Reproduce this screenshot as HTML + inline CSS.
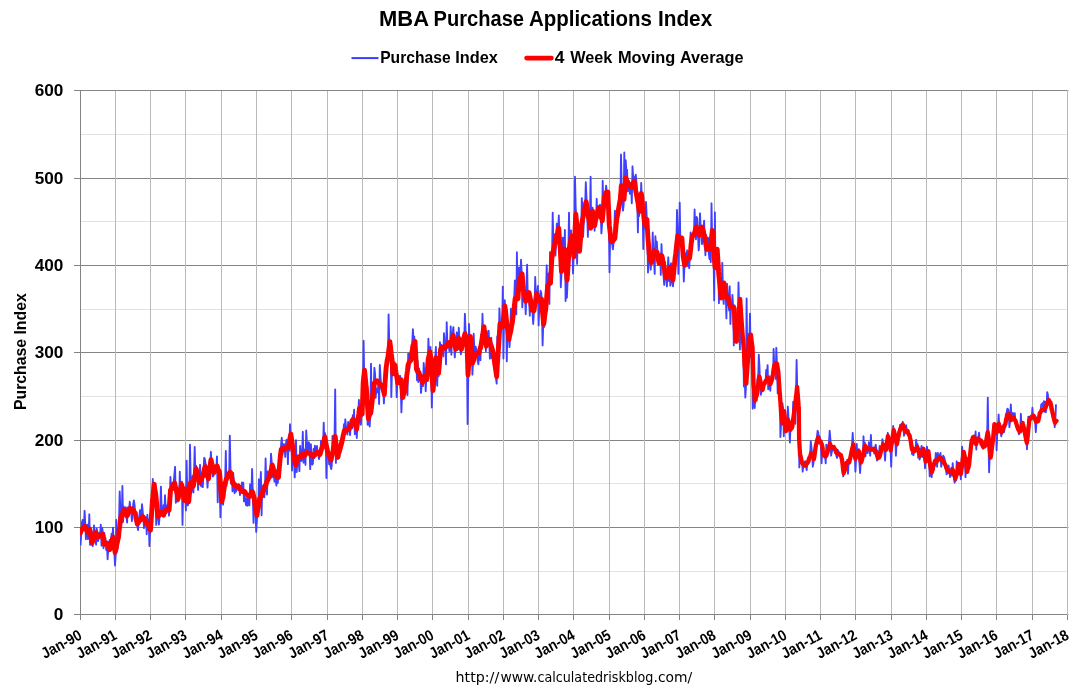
<!DOCTYPE html>
<html lang="en"><head><meta charset="utf-8"><title>MBA Purchase Applications Index</title>
<style>
html,body{margin:0;padding:0;background:#fff;}
body{width:1091px;height:694px;overflow:hidden;font-family:"Liberation Sans",sans-serif;}
svg{display:block;}
svg text{font-family:"Liberation Sans",sans-serif;fill:#000;}
</style></head><body>
<svg width="1091" height="694" viewBox="0 0 1091 694">
<rect width="1091" height="694" fill="#fff"/>
<g stroke="#e2e2e2" stroke-width="1" shape-rendering="crispEdges">
<line x1="80.5" x2="1067.5" y1="571.5" y2="571.5"/>
<line x1="80.5" x2="1067.5" y1="483.5" y2="483.5"/>
<line x1="80.5" x2="1067.5" y1="396.5" y2="396.5"/>
<line x1="80.5" x2="1067.5" y1="309.5" y2="309.5"/>
<line x1="80.5" x2="1067.5" y1="221.5" y2="221.5"/>
<line x1="80.5" x2="1067.5" y1="134.5" y2="134.5"/>
</g>
<g stroke="#848484" stroke-width="1" shape-rendering="crispEdges">
<line x1="74.0" x2="1067.0" y1="614.5" y2="614.5"/>
<line x1="74.0" x2="1067.0" y1="527.5" y2="527.5"/>
<line x1="74.0" x2="1067.0" y1="440.5" y2="440.5"/>
<line x1="74.0" x2="1067.0" y1="352.5" y2="352.5"/>
<line x1="74.0" x2="1067.0" y1="265.5" y2="265.5"/>
<line x1="74.0" x2="1067.0" y1="178.5" y2="178.5"/>
<line x1="74.0" x2="1067.0" y1="90.5" y2="90.5"/>
</g>
<g stroke="#c4c4c4" stroke-width="1" shape-rendering="crispEdges">
<line x1="1067.0" x2="1069.0" y1="614.5" y2="614.5"/>
<line x1="1067.0" x2="1069.0" y1="527.5" y2="527.5"/>
<line x1="1067.0" x2="1069.0" y1="440.5" y2="440.5"/>
<line x1="1067.0" x2="1069.0" y1="352.5" y2="352.5"/>
<line x1="1067.0" x2="1069.0" y1="265.5" y2="265.5"/>
<line x1="1067.0" x2="1069.0" y1="178.5" y2="178.5"/>
<line x1="1067.0" x2="1069.0" y1="90.5" y2="90.5"/>
</g>
<g stroke="#b9b9b9" stroke-width="1" shape-rendering="crispEdges">
<line x1="115.5" x2="115.5" y1="91.0" y2="614.0"/>
<line x1="150.5" x2="150.5" y1="91.0" y2="614.0"/>
<line x1="185.5" x2="185.5" y1="91.0" y2="614.0"/>
<line x1="221.5" x2="221.5" y1="91.0" y2="614.0"/>
<line x1="256.5" x2="256.5" y1="91.0" y2="614.0"/>
<line x1="291.5" x2="291.5" y1="91.0" y2="614.0"/>
<line x1="327.5" x2="327.5" y1="91.0" y2="614.0"/>
<line x1="362.5" x2="362.5" y1="91.0" y2="614.0"/>
<line x1="397.5" x2="397.5" y1="91.0" y2="614.0"/>
<line x1="432.5" x2="432.5" y1="91.0" y2="614.0"/>
<line x1="468.5" x2="468.5" y1="91.0" y2="614.0"/>
<line x1="503.5" x2="503.5" y1="91.0" y2="614.0"/>
<line x1="538.5" x2="538.5" y1="91.0" y2="614.0"/>
<line x1="573.5" x2="573.5" y1="91.0" y2="614.0"/>
<line x1="609.5" x2="609.5" y1="91.0" y2="614.0"/>
<line x1="644.5" x2="644.5" y1="91.0" y2="614.0"/>
<line x1="679.5" x2="679.5" y1="91.0" y2="614.0"/>
<line x1="714.5" x2="714.5" y1="91.0" y2="614.0"/>
<line x1="750.5" x2="750.5" y1="91.0" y2="614.0"/>
<line x1="785.5" x2="785.5" y1="91.0" y2="614.0"/>
<line x1="820.5" x2="820.5" y1="91.0" y2="614.0"/>
<line x1="855.5" x2="855.5" y1="91.0" y2="614.0"/>
<line x1="891.5" x2="891.5" y1="91.0" y2="614.0"/>
<line x1="926.5" x2="926.5" y1="91.0" y2="614.0"/>
<line x1="961.5" x2="961.5" y1="91.0" y2="614.0"/>
<line x1="996.5" x2="996.5" y1="91.0" y2="614.0"/>
<line x1="1032.5" x2="1032.5" y1="91.0" y2="614.0"/>
<line x1="1067.5" x2="1067.5" y1="90.0" y2="614.0"/>
</g>
<g stroke="#848484" stroke-width="1" shape-rendering="crispEdges">
<line x1="80.5" x2="80.5" y1="90.5" y2="620.0"/>
<line x1="115.5" x2="115.5" y1="615.0" y2="620.0"/>
<line x1="150.5" x2="150.5" y1="615.0" y2="620.0"/>
<line x1="185.5" x2="185.5" y1="615.0" y2="620.0"/>
<line x1="221.5" x2="221.5" y1="615.0" y2="620.0"/>
<line x1="256.5" x2="256.5" y1="615.0" y2="620.0"/>
<line x1="291.5" x2="291.5" y1="615.0" y2="620.0"/>
<line x1="327.5" x2="327.5" y1="615.0" y2="620.0"/>
<line x1="362.5" x2="362.5" y1="615.0" y2="620.0"/>
<line x1="397.5" x2="397.5" y1="615.0" y2="620.0"/>
<line x1="432.5" x2="432.5" y1="615.0" y2="620.0"/>
<line x1="468.5" x2="468.5" y1="615.0" y2="620.0"/>
<line x1="503.5" x2="503.5" y1="615.0" y2="620.0"/>
<line x1="538.5" x2="538.5" y1="615.0" y2="620.0"/>
<line x1="573.5" x2="573.5" y1="615.0" y2="620.0"/>
<line x1="609.5" x2="609.5" y1="615.0" y2="620.0"/>
<line x1="644.5" x2="644.5" y1="615.0" y2="620.0"/>
<line x1="679.5" x2="679.5" y1="615.0" y2="620.0"/>
<line x1="714.5" x2="714.5" y1="615.0" y2="620.0"/>
<line x1="750.5" x2="750.5" y1="615.0" y2="620.0"/>
<line x1="785.5" x2="785.5" y1="615.0" y2="620.0"/>
<line x1="820.5" x2="820.5" y1="615.0" y2="620.0"/>
<line x1="855.5" x2="855.5" y1="615.0" y2="620.0"/>
<line x1="891.5" x2="891.5" y1="615.0" y2="620.0"/>
<line x1="926.5" x2="926.5" y1="615.0" y2="620.0"/>
<line x1="961.5" x2="961.5" y1="615.0" y2="620.0"/>
<line x1="996.5" x2="996.5" y1="615.0" y2="620.0"/>
<line x1="1032.5" x2="1032.5" y1="615.0" y2="620.0"/>
<line x1="1067.5" x2="1067.5" y1="615.0" y2="620.0"/>
</g>
<defs><clipPath id="plot"><rect x="80" y="80" width="990" height="540"/></clipPath></defs>
<g clip-path="url(#plot)">
<path d="M80.5,545.4 L81.2,534.9 L81.9,522.6 L82.6,520.0 L83.2,527.6 L83.9,526.1 L84.6,510.8 L85.3,524.4 L85.9,539.2 L86.6,528.0 L87.3,524.7 L88.0,539.2 L88.6,535.5 L89.3,514.3 L90.0,544.7 L90.7,532.4 L91.3,544.7 L92.0,532.2 L92.7,546.1 L93.4,532.5 L94.0,525.4 L94.7,533.1 L95.4,540.2 L96.1,544.7 L96.7,528.6 L97.4,532.5 L98.1,541.1 L98.8,536.2 L99.5,532.4 L100.1,534.9 L100.8,524.7 L101.5,545.7 L102.2,527.9 L102.8,531.9 L103.5,548.2 L104.2,532.9 L104.9,538.4 L105.5,538.0 L106.2,550.0 L106.9,543.2 L107.6,559.3 L108.2,549.5 L108.9,545.8 L109.6,540.0 L110.3,544.0 L110.9,541.8 L111.6,533.7 L112.3,540.6 L113.0,527.7 L113.6,540.0 L114.3,551.3 L115.0,565.5 L115.7,554.8 L116.3,519.8 L117.0,551.2 L117.7,547.5 L118.4,542.0 L119.0,522.3 L119.7,491.4 L120.4,510.3 L121.1,523.1 L121.7,523.0 L122.4,485.9 L123.1,521.9 L123.8,506.6 L124.4,511.0 L125.1,512.5 L125.8,507.3 L126.5,517.1 L127.1,522.6 L127.8,507.4 L128.5,516.1 L129.2,508.4 L129.8,501.8 L130.5,510.3 L131.2,512.7 L131.9,521.2 L132.6,512.9 L133.2,504.2 L133.9,500.4 L134.6,505.1 L135.3,514.6 L135.9,520.4 L136.6,516.3 L137.3,525.4 L138.0,530.1 L138.6,522.5 L139.3,516.7 L140.0,510.1 L140.7,514.2 L141.3,515.3 L142.0,504.2 L142.7,511.3 L143.4,519.4 L144.0,528.1 L144.7,518.9 L145.4,524.4 L146.1,517.1 L146.7,534.3 L147.4,514.6 L148.1,530.1 L148.8,519.4 L149.4,546.1 L150.1,532.1 L150.8,530.5 L151.5,514.2 L152.1,500.1 L152.8,479.0 L153.5,493.7 L154.2,487.1 L154.8,487.2 L155.5,493.7 L156.2,524.9 L156.9,509.6 L157.5,507.7 L158.2,518.1 L158.9,524.7 L159.6,516.8 L160.2,508.9 L160.9,486.6 L161.6,508.6 L162.3,515.6 L163.0,510.0 L163.6,505.2 L164.3,514.5 L165.0,495.2 L165.7,509.8 L166.3,510.3 L167.0,505.5 L167.7,505.4 L168.4,508.8 L169.0,515.7 L169.7,505.4 L170.4,476.9 L171.1,491.6 L171.7,484.9 L172.4,484.0 L173.1,490.2 L173.8,481.6 L174.4,474.2 L175.1,466.8 L175.8,502.8 L176.5,492.3 L177.1,501.5 L177.8,493.8 L178.5,501.4 L179.2,496.9 L179.8,471.7 L180.5,493.5 L181.2,488.7 L181.9,481.6 L182.5,524.9 L183.2,487.4 L183.9,498.3 L184.6,498.4 L185.2,495.4 L185.9,510.4 L186.6,460.6 L187.3,496.1 L187.9,505.5 L188.6,497.7 L189.3,495.8 L190.0,444.7 L190.6,473.9 L191.3,492.5 L192.0,482.7 L192.7,475.9 L193.4,492.5 L194.0,475.0 L194.7,447.0 L195.4,477.8 L196.1,465.7 L196.7,469.4 L197.4,471.5 L198.1,489.9 L198.8,470.9 L199.4,475.8 L200.1,464.8 L200.8,485.9 L201.5,482.2 L202.1,486.7 L202.8,487.1 L203.5,470.9 L204.2,457.8 L204.8,458.9 L205.5,463.2 L206.2,465.6 L206.9,475.5 L207.5,487.6 L208.2,476.5 L208.9,474.7 L209.6,464.0 L210.2,466.4 L210.9,451.8 L211.6,465.1 L212.3,460.5 L212.9,476.5 L213.6,475.7 L214.3,469.7 L215.0,466.6 L215.6,466.9 L216.3,468.8 L217.0,456.4 L217.7,502.3 L218.3,475.4 L219.0,481.0 L219.7,482.9 L220.4,517.3 L221.0,495.4 L221.7,498.6 L222.4,494.2 L223.1,504.6 L223.8,488.4 L224.4,498.1 L225.1,482.4 L225.8,450.9 L226.5,485.7 L227.1,478.6 L227.8,479.4 L228.5,474.6 L229.2,472.1 L229.8,435.7 L230.5,468.6 L231.2,483.6 L231.9,477.3 L232.5,491.3 L233.2,472.9 L233.9,484.0 L234.6,493.3 L235.2,483.5 L235.9,491.7 L236.6,489.8 L237.3,485.3 L237.9,489.7 L238.6,484.1 L239.3,489.4 L240.0,495.2 L240.6,486.2 L241.3,489.7 L242.0,482.4 L242.7,489.3 L243.3,482.7 L244.0,501.4 L244.7,496.7 L245.4,500.1 L246.0,505.1 L246.7,498.3 L247.4,505.8 L248.1,501.5 L248.7,496.8 L249.4,505.4 L250.1,484.3 L250.8,490.5 L251.4,493.9 L252.1,468.9 L252.8,492.5 L253.5,522.9 L254.2,493.8 L254.8,511.8 L255.5,508.8 L256.2,531.9 L256.9,520.7 L257.5,509.4 L258.2,511.5 L258.9,479.3 L259.6,507.4 L260.2,488.7 L260.9,471.9 L261.6,515.3 L262.3,486.1 L262.9,496.9 L263.6,484.9 L264.3,497.3 L265.0,489.8 L265.6,458.5 L266.3,484.8 L267.0,494.5 L267.7,471.4 L268.3,480.7 L269.0,475.5 L269.7,478.3 L270.4,473.1 L271.0,453.7 L271.7,462.0 L272.4,475.0 L273.1,477.4 L273.7,467.8 L274.4,481.6 L275.1,474.4 L275.8,481.0 L276.4,485.7 L277.1,469.9 L277.8,483.0 L278.5,472.3 L279.1,464.9 L279.8,454.9 L280.5,458.8 L281.2,443.4 L281.8,437.8 L282.5,454.7 L283.2,444.1 L283.9,444.1 L284.6,446.4 L285.2,456.9 L285.9,443.8 L286.6,439.6 L287.3,446.9 L287.9,464.1 L288.6,440.8 L289.3,450.7 L290.0,424.2 L290.6,439.3 L291.3,434.6 L292.0,470.5 L292.7,448.8 L293.3,443.2 L294.0,458.2 L294.7,477.4 L295.4,462.6 L296.0,440.1 L296.7,472.0 L297.4,461.4 L298.1,462.5 L298.7,461.7 L299.4,471.2 L300.1,445.9 L300.8,454.4 L301.4,461.0 L302.1,456.7 L302.8,431.8 L303.5,462.7 L304.1,449.5 L304.8,457.6 L305.5,464.8 L306.2,430.4 L306.8,440.7 L307.5,450.5 L308.2,449.7 L308.9,442.1 L309.5,448.4 L310.2,469.1 L310.9,444.1 L311.6,459.9 L312.2,464.6 L312.9,463.7 L313.6,448.9 L314.3,458.1 L314.9,445.6 L315.6,455.4 L316.3,452.3 L317.0,446.0 L317.7,453.8 L318.3,453.7 L319.0,459.1 L319.7,455.6 L320.4,454.9 L321.0,440.6 L321.7,442.1 L322.4,443.3 L323.1,445.0 L323.7,422.7 L324.4,446.5 L325.1,433.2 L325.8,440.5 L326.4,478.1 L327.1,448.3 L327.8,455.7 L328.5,451.6 L329.1,464.3 L329.8,456.5 L330.5,466.1 L331.2,469.1 L331.8,465.0 L332.5,435.9 L333.2,451.3 L333.9,441.9 L334.5,441.4 L335.2,389.5 L335.9,462.9 L336.6,439.4 L337.2,446.6 L337.9,458.9 L338.6,445.2 L339.3,453.4 L339.9,443.1 L340.6,441.2 L341.3,442.8 L342.0,443.7 L342.6,434.7 L343.3,432.1 L344.0,424.1 L344.7,428.6 L345.3,419.3 L346.0,427.0 L346.7,429.4 L347.4,434.6 L348.1,422.0 L348.7,431.4 L349.4,427.3 L350.1,435.2 L350.8,424.7 L351.4,427.1 L352.1,428.4 L352.8,415.3 L353.5,421.3 L354.1,409.6 L354.8,434.3 L355.5,427.5 L356.2,425.1 L356.8,438.0 L357.5,421.6 L358.2,415.1 L358.9,399.9 L359.5,415.7 L360.2,415.1 L360.9,424.8 L361.6,411.3 L362.2,416.1 L362.9,389.7 L363.6,340.8 L364.3,380.4 L364.9,374.7 L365.6,370.6 L366.3,385.5 L367.0,392.9 L367.6,424.8 L368.3,413.2 L369.0,423.6 L369.7,426.5 L370.3,413.4 L371.0,363.7 L371.7,414.3 L372.4,395.1 L373.0,394.9 L373.7,388.0 L374.4,367.8 L375.1,374.1 L375.7,397.8 L376.4,388.5 L377.1,389.6 L377.8,392.6 L378.5,380.6 L379.1,404.1 L379.8,365.0 L380.5,376.3 L381.2,388.6 L381.8,383.2 L382.5,388.6 L383.2,388.3 L383.9,403.4 L384.5,392.5 L385.2,379.8 L385.9,377.1 L386.6,365.8 L387.2,357.8 L387.9,362.6 L388.6,314.5 L389.3,343.3 L389.9,340.6 L390.6,341.1 L391.3,397.1 L392.0,370.5 L392.6,365.1 L393.3,372.7 L394.0,363.2 L394.7,362.5 L395.3,375.2 L396.0,376.3 L396.7,397.1 L397.4,380.5 L398.0,378.2 L398.7,377.7 L399.4,376.3 L400.1,375.8 L400.7,381.8 L401.4,412.4 L402.1,393.2 L402.8,397.5 L403.4,388.4 L404.1,392.9 L404.8,385.6 L405.5,392.3 L406.1,384.4 L406.8,379.4 L407.5,395.1 L408.2,353.6 L408.9,367.8 L409.5,368.3 L410.2,352.4 L410.9,360.3 L411.6,361.2 L412.2,343.7 L412.9,329.1 L413.6,341.5 L414.3,336.6 L414.9,349.2 L415.6,354.5 L416.3,362.8 L417.0,380.3 L417.6,360.6 L418.3,382.0 L419.0,368.5 L419.7,376.2 L420.3,374.4 L421.0,393.0 L421.7,385.2 L422.4,377.7 L423.0,386.1 L423.7,363.0 L424.4,373.4 L425.1,375.6 L425.7,391.3 L426.4,375.1 L427.1,380.8 L427.8,364.0 L428.4,338.7 L429.1,357.6 L429.8,347.5 L430.5,347.0 L431.1,360.4 L431.8,407.5 L432.5,382.0 L433.2,383.7 L433.8,386.1 L434.5,363.1 L435.2,358.1 L435.9,347.0 L436.5,372.7 L437.2,385.8 L437.9,364.2 L438.6,376.4 L439.3,369.3 L439.9,342.2 L440.6,348.0 L441.3,344.9 L442.0,349.4 L442.6,350.5 L443.3,356.5 L444.0,333.2 L444.7,342.3 L445.3,342.5 L446.0,364.3 L446.7,322.1 L447.4,345.4 L448.0,344.5 L448.7,343.9 L449.4,351.2 L450.1,344.3 L450.7,326.3 L451.4,354.7 L452.1,333.8 L452.8,331.4 L453.4,327.2 L454.1,344.2 L454.8,357.4 L455.5,344.3 L456.1,342.4 L456.8,332.3 L457.5,336.8 L458.2,349.4 L458.8,327.8 L459.5,341.7 L460.2,347.7 L460.9,354.4 L461.5,346.0 L462.2,348.9 L462.9,335.5 L463.6,341.5 L464.2,343.2 L464.9,313.8 L465.6,331.2 L466.3,339.4 L466.9,347.6 L467.6,424.1 L468.3,375.4 L469.0,324.0 L469.6,342.4 L470.3,338.4 L471.0,345.9 L471.7,346.3 L472.4,374.7 L473.0,362.5 L473.7,333.7 L474.4,351.5 L475.1,358.1 L475.7,346.7 L476.4,350.5 L477.1,352.7 L477.8,361.3 L478.4,364.3 L479.1,353.4 L479.8,351.6 L480.5,360.2 L481.1,334.7 L481.8,342.6 L482.5,313.8 L483.2,339.7 L483.8,334.9 L484.5,333.7 L485.2,332.1 L485.9,351.2 L486.5,330.9 L487.2,344.0 L487.9,344.9 L488.6,330.6 L489.2,341.7 L489.9,358.6 L490.6,345.5 L491.3,337.8 L491.9,358.1 L492.6,353.9 L493.3,355.8 L494.0,359.0 L494.6,360.1 L495.3,372.2 L496.0,378.6 L496.7,383.7 L497.3,336.4 L498.0,361.0 L498.7,351.2 L499.4,308.3 L500.0,321.2 L500.7,321.9 L501.4,324.6 L502.1,328.0 L502.8,286.6 L503.4,358.6 L504.1,313.0 L504.8,300.2 L505.5,317.6 L506.1,314.1 L506.8,361.3 L507.5,323.7 L508.2,331.9 L508.8,335.6 L509.5,347.1 L510.2,336.2 L510.9,308.7 L511.5,322.0 L512.2,320.4 L512.9,321.6 L513.6,321.5 L514.2,298.4 L514.9,280.4 L515.6,296.9 L516.3,314.3 L516.9,252.2 L517.6,299.0 L518.3,298.9 L519.0,267.5 L519.6,281.6 L520.3,284.2 L521.0,259.7 L521.7,273.5 L522.3,307.4 L523.0,288.3 L523.7,287.3 L524.4,300.8 L525.0,292.8 L525.7,314.3 L526.4,292.7 L527.1,264.6 L527.7,293.0 L528.4,300.6 L529.1,297.3 L529.8,315.7 L530.4,301.3 L531.1,310.8 L531.8,298.8 L532.5,311.8 L533.2,324.0 L533.8,313.9 L534.5,311.1 L535.2,277.0 L535.9,298.1 L536.5,297.3 L537.2,294.7 L537.9,285.9 L538.6,325.4 L539.2,309.2 L539.9,296.4 L540.6,290.8 L541.3,293.3 L541.9,303.8 L542.6,345.4 L543.3,321.6 L544.0,327.2 L544.6,318.0 L545.3,313.3 L546.0,296.6 L546.7,265.3 L547.3,295.5 L548.0,282.5 L548.7,273.4 L549.4,303.9 L550.0,252.1 L550.7,273.8 L551.4,262.0 L552.1,252.5 L552.7,212.6 L553.4,246.4 L554.1,241.1 L554.8,234.3 L555.4,255.6 L556.1,243.5 L556.8,223.7 L557.5,238.4 L558.1,232.2 L558.8,215.4 L559.5,240.0 L560.2,248.2 L560.8,287.3 L561.5,273.4 L562.2,262.9 L562.9,237.6 L563.6,256.5 L564.2,255.0 L564.9,229.9 L565.6,301.1 L566.3,263.7 L566.9,297.7 L567.6,281.1 L568.3,255.2 L569.0,212.6 L569.6,248.0 L570.3,242.2 L571.0,230.4 L571.7,243.2 L572.3,235.0 L573.0,273.6 L573.7,255.9 L574.4,240.6 L575.0,176.7 L575.7,207.7 L576.4,218.8 L577.1,263.9 L577.7,236.0 L578.4,242.8 L579.1,245.4 L579.8,248.9 L580.4,235.8 L581.1,241.4 L581.8,198.1 L582.5,210.2 L583.1,236.9 L583.8,222.6 L584.5,202.7 L585.2,204.3 L585.8,182.2 L586.5,197.8 L587.2,213.7 L587.9,236.9 L588.5,211.2 L589.2,225.8 L589.9,218.5 L590.6,176.7 L591.2,223.1 L591.9,217.7 L592.6,207.7 L593.3,219.8 L594.0,212.1 L594.6,230.7 L595.3,217.7 L596.0,225.2 L596.7,198.8 L597.3,219.5 L598.0,206.1 L598.7,211.4 L599.4,214.0 L600.0,204.7 L600.7,211.2 L601.4,233.4 L602.1,224.0 L602.7,180.8 L603.4,211.1 L604.1,201.8 L604.8,196.5 L605.4,194.4 L606.1,185.7 L606.8,192.3 L607.5,190.8 L608.1,209.6 L608.8,217.1 L609.5,272.2 L610.2,233.6 L610.8,240.5 L611.5,240.8 L612.2,244.2 L612.9,249.3 L613.5,243.4 L614.2,234.0 L614.9,210.6 L615.6,234.2 L616.2,216.5 L616.9,217.5 L617.6,215.0 L618.3,208.8 L618.9,205.0 L619.6,194.5 L620.3,208.0 L621.0,154.5 L621.6,182.1 L622.3,196.0 L623.0,210.6 L623.7,204.4 L624.3,152.5 L625.0,190.8 L625.7,160.1 L626.4,171.6 L627.1,169.8 L627.7,191.2 L628.4,180.4 L629.1,181.2 L629.8,193.8 L630.4,182.7 L631.1,185.3 L631.8,203.3 L632.5,166.3 L633.1,175.6 L633.8,176.5 L634.5,187.9 L635.2,189.0 L635.8,174.6 L636.5,182.3 L637.2,199.0 L637.9,232.4 L638.5,203.9 L639.2,216.0 L639.9,195.9 L640.6,207.1 L641.2,182.9 L641.9,202.6 L642.6,206.6 L643.3,249.0 L643.9,215.9 L644.6,221.1 L645.3,228.7 L646.0,201.9 L646.6,213.9 L647.3,235.4 L648.0,272.5 L648.7,254.7 L649.3,254.6 L650.0,259.5 L650.7,269.7 L651.4,258.5 L652.0,261.9 L652.7,232.4 L653.4,251.8 L654.1,262.4 L654.7,273.9 L655.4,236.2 L656.1,247.6 L656.8,241.7 L657.5,252.4 L658.1,256.1 L658.8,257.1 L659.5,258.2 L660.2,253.6 L660.8,274.9 L661.5,244.1 L662.2,263.8 L662.9,258.1 L663.5,275.6 L664.2,284.9 L664.9,261.7 L665.6,274.2 L666.2,278.2 L666.9,286.3 L667.6,268.9 L668.3,257.3 L668.9,281.0 L669.6,265.5 L670.3,285.6 L671.0,263.2 L671.6,276.8 L672.3,283.0 L673.0,286.3 L673.7,278.2 L674.3,254.5 L675.0,261.7 L675.7,260.4 L676.4,244.0 L677.0,209.9 L677.7,238.7 L678.4,273.9 L679.1,243.5 L679.7,202.6 L680.4,243.9 L681.1,237.1 L681.8,236.6 L682.4,256.0 L683.1,253.5 L683.8,281.5 L684.5,264.6 L685.1,265.1 L685.8,253.1 L686.5,256.0 L687.2,250.3 L687.9,266.2 L688.5,259.6 L689.2,268.3 L689.9,255.5 L690.6,232.4 L691.2,251.8 L691.9,246.9 L692.6,234.6 L693.3,233.3 L693.9,236.5 L694.6,209.5 L695.3,233.7 L696.0,239.3 L696.6,217.0 L697.3,218.5 L698.0,235.4 L698.7,250.4 L699.3,243.2 L700.0,213.3 L700.7,228.6 L701.4,234.4 L702.0,244.1 L702.7,236.5 L703.4,232.8 L704.1,220.6 L704.7,236.5 L705.4,255.2 L706.1,235.1 L706.8,247.7 L707.4,237.4 L708.1,237.9 L708.8,253.8 L709.5,259.1 L710.1,251.0 L710.8,262.1 L711.5,203.3 L712.2,242.2 L712.8,229.9 L713.5,252.4 L714.2,300.4 L714.9,212.3 L715.5,267.0 L716.2,259.4 L716.9,251.7 L717.6,251.7 L718.3,262.4 L718.9,303.2 L719.6,284.8 L720.3,288.2 L721.0,297.0 L721.6,289.9 L722.3,262.8 L723.0,294.5 L723.7,303.9 L724.3,285.9 L725.0,295.6 L725.7,290.8 L726.4,318.4 L727.0,283.6 L727.7,294.2 L728.4,302.8 L729.1,310.3 L729.7,286.3 L730.4,324.0 L731.1,305.7 L731.8,306.3 L732.4,294.9 L733.1,305.5 L733.8,345.4 L734.5,305.3 L735.1,327.1 L735.8,338.1 L736.5,338.8 L737.2,330.0 L737.8,322.6 L738.5,282.5 L739.2,311.3 L739.9,349.6 L740.5,304.6 L741.2,322.4 L741.9,322.2 L742.6,332.2 L743.2,343.3 L743.9,386.5 L744.6,371.4 L745.3,397.6 L745.9,387.9 L746.6,298.4 L747.3,362.3 L748.0,360.6 L748.7,333.6 L749.3,341.3 L750.0,313.6 L750.7,357.2 L751.4,336.9 L752.0,349.0 L752.7,408.7 L753.4,378.5 L754.1,392.0 L754.7,408.0 L755.4,395.9 L756.1,396.6 L756.8,400.4 L757.4,379.1 L758.1,382.2 L758.8,354.7 L759.5,366.7 L760.1,389.5 L760.8,394.8 L761.5,392.1 L762.2,385.7 L762.8,390.8 L763.5,384.0 L764.2,381.8 L764.9,382.9 L765.5,382.4 L766.2,369.9 L766.9,377.0 L767.6,365.1 L768.2,389.3 L768.9,382.3 L769.6,376.3 L770.3,390.8 L770.9,380.1 L771.6,381.4 L772.3,377.8 L773.0,379.9 L773.6,348.9 L774.3,365.8 L775.0,366.0 L775.7,378.9 L776.3,347.8 L777.0,365.8 L777.7,393.4 L778.4,381.2 L779.0,385.3 L779.7,384.8 L780.4,437.0 L781.1,422.8 L781.8,415.5 L782.4,403.1 L783.1,407.9 L783.8,436.3 L784.5,410.4 L785.1,432.3 L785.8,418.1 L786.5,428.9 L787.2,428.6 L787.8,406.6 L788.5,417.2 L789.2,426.1 L789.9,442.5 L790.5,426.8 L791.2,427.2 L791.9,423.0 L792.6,422.1 L793.2,401.7 L793.9,412.2 L794.6,410.0 L795.3,423.8 L795.9,399.2 L796.6,359.9 L797.3,390.5 L798.0,390.4 L798.6,402.6 L799.3,467.4 L800.0,456.3 L800.7,457.6 L801.3,455.2 L802.0,460.3 L802.7,471.6 L803.4,464.2 L804.0,467.2 L804.7,461.6 L805.4,461.2 L806.1,466.9 L806.7,470.2 L807.4,461.4 L808.1,464.1 L808.8,457.6 L809.4,462.6 L810.1,455.1 L810.8,441.1 L811.5,448.2 L812.2,454.2 L812.8,466.7 L813.5,462.6 L814.2,453.3 L814.9,455.5 L815.5,446.5 L816.2,442.6 L816.9,437.5 L817.6,430.8 L818.2,432.1 L818.9,443.2 L819.6,436.2 L820.3,440.6 L820.9,446.8 L821.6,463.3 L822.3,447.7 L823.0,448.7 L823.6,454.8 L824.3,457.6 L825.0,455.0 L825.7,463.3 L826.3,444.6 L827.0,454.2 L827.7,447.8 L828.4,447.3 L829.0,441.5 L829.7,430.8 L830.4,439.2 L831.1,455.7 L831.7,452.1 L832.4,450.7 L833.1,448.0 L833.8,447.0 L834.4,447.8 L835.1,453.2 L835.8,451.8 L836.5,456.4 L837.1,458.0 L837.8,449.8 L838.5,451.6 L839.2,452.6 L839.8,455.2 L840.5,456.2 L841.2,456.3 L841.9,462.9 L842.6,466.3 L843.2,476.4 L843.9,466.1 L844.6,472.4 L845.3,464.6 L845.9,463.3 L846.6,463.3 L847.3,459.6 L848.0,473.7 L848.6,463.4 L849.3,461.3 L850.0,460.1 L850.7,452.9 L851.3,451.6 L852.0,446.2 L852.7,432.8 L853.4,445.4 L854.0,448.4 L854.7,449.3 L855.4,471.6 L856.1,458.1 L856.7,443.9 L857.4,455.1 L858.1,452.7 L858.8,449.1 L859.4,462.2 L860.1,473.0 L860.8,459.9 L861.5,461.7 L862.1,453.4 L862.8,459.7 L863.5,436.3 L864.2,450.9 L864.8,442.6 L865.5,456.4 L866.2,448.2 L866.9,449.0 L867.5,453.1 L868.2,451.0 L868.9,442.3 L869.6,449.1 L870.2,455.7 L870.9,434.9 L871.6,449.2 L872.3,450.8 L873.0,448.0 L873.6,450.7 L874.3,453.5 L875.0,447.8 L875.7,444.7 L876.3,448.6 L877.0,460.5 L877.7,457.3 L878.4,456.3 L879.0,453.5 L879.7,446.0 L880.4,456.2 L881.1,452.2 L881.7,448.1 L882.4,439.1 L883.1,443.4 L883.8,447.9 L884.4,451.9 L885.1,460.5 L885.8,446.5 L886.5,446.6 L887.1,442.2 L887.8,432.8 L888.5,437.2 L889.2,441.6 L889.8,445.2 L890.5,448.8 L891.2,466.7 L891.9,446.0 L892.5,440.7 L893.2,425.9 L893.9,431.4 L894.6,431.4 L895.2,435.2 L895.9,455.7 L896.6,443.3 L897.3,445.3 L897.9,440.4 L898.6,436.5 L899.3,434.5 L900.0,424.9 L900.6,426.9 L901.3,424.3 L902.0,427.8 L902.7,421.8 L903.4,426.6 L904.0,435.7 L904.7,432.3 L905.4,433.2 L906.1,425.2 L906.7,430.2 L907.4,430.0 L908.1,433.4 L908.8,432.4 L909.4,436.0 L910.1,437.7 L910.8,439.6 L911.5,446.8 L912.1,454.3 L912.8,446.7 L913.5,455.2 L914.2,448.1 L914.8,452.4 L915.5,450.8 L916.2,439.8 L916.9,448.7 L917.5,444.1 L918.2,457.7 L918.9,454.3 L919.6,459.6 L920.2,457.1 L920.9,448.9 L921.6,446.0 L922.3,457.0 L922.9,451.9 L923.6,456.8 L924.3,452.9 L925.0,468.2 L925.6,458.6 L926.3,459.2 L927.0,446.7 L927.7,452.3 L928.3,455.5 L929.0,458.4 L929.7,476.4 L930.4,463.8 L931.0,467.8 L931.7,477.2 L932.4,465.3 L933.1,469.3 L933.7,469.3 L934.4,463.5 L935.1,464.9 L935.8,452.9 L936.5,457.6 L937.1,466.8 L937.8,453.0 L938.5,457.5 L939.2,459.2 L939.8,455.2 L940.5,453.0 L941.2,466.8 L941.9,463.0 L942.5,459.8 L943.2,455.6 L943.9,456.8 L944.6,458.8 L945.2,463.4 L945.9,468.9 L946.6,474.3 L947.3,473.0 L947.9,466.6 L948.6,465.5 L949.3,470.7 L950.0,477.2 L950.6,470.4 L951.3,467.9 L952.0,475.7 L952.7,463.2 L953.3,472.1 L954.0,479.4 L954.7,482.7 L955.4,475.6 L956.0,480.7 L956.7,461.3 L957.4,464.4 L958.1,463.3 L958.7,465.8 L959.4,469.2 L960.1,469.0 L960.8,479.3 L961.4,467.7 L962.1,446.7 L962.8,457.3 L963.5,457.1 L964.1,453.6 L964.8,454.5 L965.5,477.2 L966.2,466.8 L966.9,471.6 L967.5,465.3 L968.2,463.9 L968.9,464.6 L969.6,460.1 L970.2,453.2 L970.9,447.5 L971.6,444.0 L972.3,437.2 L972.9,440.5 L973.6,437.6 L974.3,437.9 L975.0,440.1 L975.6,431.5 L976.3,449.5 L977.0,438.1 L977.7,439.5 L978.3,438.5 L979.0,432.7 L979.7,439.5 L980.4,444.8 L981.0,444.0 L981.7,440.3 L982.4,441.1 L983.1,448.8 L983.7,446.0 L984.4,441.6 L985.1,441.9 L985.8,441.0 L986.4,441.6 L987.1,440.3 L987.8,397.6 L988.5,443.0 L989.1,472.3 L989.8,452.6 L990.5,454.2 L991.2,448.6 L991.8,449.3 L992.5,447.1 L993.2,431.4 L993.9,429.0 L994.5,425.2 L995.2,429.1 L995.9,426.4 L996.6,450.2 L997.3,432.4 L997.9,431.8 L998.6,414.4 L999.3,426.7 L1000.0,426.9 L1000.6,430.6 L1001.3,436.4 L1002.0,431.8 L1002.7,429.6 L1003.3,430.6 L1004.0,432.1 L1004.7,427.5 L1005.4,427.3 L1006.0,419.5 L1006.7,412.1 L1007.4,408.6 L1008.1,409.4 L1008.7,412.2 L1009.4,427.1 L1010.1,420.4 L1010.8,404.4 L1011.4,417.4 L1012.1,419.4 L1012.8,413.0 L1013.5,413.7 L1014.1,415.6 L1014.8,413.2 L1015.5,423.2 L1016.2,419.6 L1016.8,427.8 L1017.5,427.0 L1018.2,431.3 L1018.9,434.3 L1019.5,430.3 L1020.2,429.1 L1020.9,413.8 L1021.6,430.6 L1022.2,422.2 L1022.9,423.3 L1023.6,428.0 L1024.3,432.7 L1024.9,432.6 L1025.6,435.2 L1026.3,437.9 L1027.0,449.3 L1027.7,436.0 L1028.3,416.6 L1029.0,421.4 L1029.7,421.4 L1030.4,418.2 L1031.0,415.8 L1031.7,419.2 L1032.4,407.7 L1033.1,416.8 L1033.7,416.0 L1034.4,415.5 L1035.1,420.5 L1035.8,432.1 L1036.4,423.8 L1037.1,417.3 L1037.8,422.4 L1038.5,421.9 L1039.1,419.0 L1039.8,413.1 L1040.5,412.8 L1041.2,404.5 L1041.8,405.6 L1042.5,403.2 L1043.2,407.5 L1043.9,401.1 L1044.5,411.8 L1045.2,401.6 L1045.9,412.2 L1046.6,407.0 L1047.2,392.1 L1047.9,394.7 L1048.6,404.2 L1049.3,399.7 L1049.9,401.4 L1050.6,410.2 L1051.3,408.6 L1052.0,412.2 L1052.6,417.1 L1053.3,414.0 L1054.0,414.2 L1054.7,427.1 L1055.3,421.9 L1056.0,404.4" fill="none" stroke="#4040ff" stroke-width="1.85" stroke-linejoin="round" stroke-linecap="butt"/>
<path d="M735.1,327.5 L735.8,335.0 L736.4,341.3 L736.5,339.8 L737.2,330.7 L737.8,323.7 L738.4,316.1 L738.5,315.2 L739.2,308.7 L739.9,301.6 L740.1,299.0 L740.5,304.5 L741.2,315.5 L741.9,325.0 L741.9,325.1 L742.6,334.4 L743.2,342.7 L743.9,350.7 L744.0,351.3 L744.5,364.4 L744.6,365.1 L745.3,371.9 L745.9,379.4 L746.3,383.6 L746.6,379.4 L747.3,369.5 L748.0,359.6 L748.0,359.3 L748.7,343.3 L748.8,339.2 L749.3,337.3 L750.0,336.9 L750.7,334.9 L750.9,334.8 L751.4,338.7 L752.0,344.2 L752.5,346.8 L752.7,352.5 L752.8,358.2 L753.4,378.8 L753.5,384.0 L754.1,389.7 L754.7,398.6 L754.9,400.7 L755.4,398.9 L756.1,396.5 L756.8,395.3 L757.0,394.2 L757.4,389.5 L758.1,385.3 L758.8,379.7 L759.1,376.5 L759.5,376.7 L760.1,380.3 L760.8,382.4 L761.1,383.2 L761.5,384.5 L762.2,388.6 L762.5,389.9 L762.8,388.9 L763.5,385.3 L764.2,384.0 L764.9,383.1 L765.3,381.9 L765.5,381.0 L766.2,380.9 L766.9,380.2 L767.4,377.8 L767.6,377.9 L768.2,379.3 L768.9,380.3 L769.6,381.4 L770.1,384.1 L770.3,384.0 L770.9,382.7 L771.6,380.6 L772.2,378.4 L772.3,377.7 L773.0,373.9 L773.6,369.4 L774.3,365.5 L774.3,365.4 L775.0,365.7 L775.7,363.9 L776.3,363.2 L777.0,363.7 L777.0,363.6 L777.7,367.9 L778.4,372.4 L778.4,372.8 L779.0,382.4 L779.7,392.2 L779.8,393.5 L780.4,402.0 L781.1,412.6 L781.2,414.6 L781.8,418.5 L782.4,422.6 L782.6,423.4 L783.1,418.6 L783.8,412.8 L784.0,411.1 L784.5,415.1 L785.1,420.9 L785.8,428.7 L786.0,431.2 L786.5,429.5 L787.2,425.8 L787.8,421.5 L788.1,419.9 L788.5,421.5 L789.2,423.7 L789.9,428.1 L790.2,430.0 L790.5,429.8 L791.2,428.3 L791.9,427.9 L792.3,426.4 L792.6,423.8 L793.2,419.0 L793.9,414.3 L794.3,411.3 L794.6,408.9 L795.3,403.6 L795.9,397.8 L796.6,391.9 L797.1,386.8 L797.3,389.1 L798.0,397.6 L798.6,406.0 L798.8,407.8 L799.1,438.3 L799.3,442.2 L800.0,453.5 L800.1,454.8 L800.7,456.9 L801.3,459.9 L802.0,462.4 L802.1,462.9 L802.7,463.7 L803.4,464.6 L804.0,465.0 L804.7,464.9 L804.9,465.4 L805.4,465.5 L806.1,464.9 L806.7,463.6 L807.4,462.8 L808.1,461.6 L808.4,461.0 L808.8,459.4 L809.4,457.6 L810.1,456.8 L810.8,454.2 L811.1,453.3 L811.5,454.0 L812.2,456.3 L812.8,456.5 L813.5,458.2 L813.9,459.1 L814.2,457.3 L814.9,452.7 L815.5,447.9 L816.0,445.2 L816.2,444.4 L816.9,441.6 L817.6,439.2 L818.1,437.5 L818.2,438.1 L818.9,439.3 L819.6,440.8 L820.1,441.1 L820.3,441.1 L820.9,442.3 L821.6,443.9 L822.2,445.8 L822.3,446.4 L823.0,451.1 L823.6,454.4 L823.6,454.4 L824.3,455.7 L825.0,455.7 L825.7,456.4 L825.7,456.4 L826.3,455.7 L827.0,453.8 L827.7,451.6 L827.7,451.4 L828.4,449.2 L829.0,446.9 L829.7,444.6 L830.1,443.8 L830.4,444.8 L831.1,447.1 L831.7,446.8 L832.4,447.8 L832.6,447.9 L833.1,447.5 L833.8,447.1 L834.4,448.5 L835.1,449.3 L835.8,451.2 L836.5,452.5 L836.7,452.8 L837.1,453.4 L837.8,453.6 L838.5,454.3 L839.2,454.7 L839.8,454.3 L840.5,455.1 L840.9,455.2 L841.2,456.6 L841.9,459.3 L842.3,461.9 L842.6,464.5 L843.2,470.4 L843.7,473.3 L843.9,472.4 L844.6,470.7 L845.3,468.3 L845.9,464.7 L846.4,463.0 L846.6,463.0 L847.3,462.3 L848.0,461.9 L848.6,461.9 L849.2,462.4 L849.3,461.9 L850.0,459.0 L850.7,456.3 L851.3,453.0 L851.3,452.7 L852.0,449.5 L852.7,447.1 L853.3,444.4 L853.4,444.6 L854.0,449.7 L854.7,454.3 L855.4,458.8 L855.4,459.0 L856.1,457.3 L856.7,456.2 L857.4,455.3 L858.1,453.4 L858.8,451.3 L858.9,451.1 L859.4,454.3 L860.1,458.0 L860.8,461.2 L861.0,462.5 L861.5,461.6 L862.1,459.0 L862.8,456.3 L863.0,455.6 L863.5,453.7 L864.2,449.3 L864.8,446.7 L865.1,445.6 L865.5,446.4 L866.2,447.9 L866.9,448.5 L867.5,448.1 L867.9,448.2 L868.2,448.4 L868.9,448.4 L869.6,448.7 L870.2,449.3 L870.6,449.6 L870.9,449.4 L871.6,448.9 L872.3,449.4 L873.0,449.4 L873.6,448.7 L874.1,448.8 L874.3,449.3 L875.0,450.5 L875.7,451.5 L876.2,451.5 L876.3,451.8 L877.0,455.1 L877.7,457.2 L878.0,458.1 L878.4,457.7 L879.0,457.7 L879.7,456.1 L880.3,454.0 L880.4,453.6 L881.1,450.6 L881.7,448.4 L882.4,446.2 L883.1,444.5 L883.1,444.5 L883.8,445.0 L884.4,445.7 L885.1,447.0 L885.8,449.7 L885.9,449.9 L886.5,445.8 L887.1,441.5 L887.8,437.1 L887.9,436.1 L888.5,438.9 L889.2,443.4 L889.8,445.6 L890.5,449.3 L890.7,450.3 L891.2,446.6 L891.9,442.2 L892.5,438.5 L893.2,433.1 L893.7,430.0 L893.9,430.8 L894.6,433.6 L895.2,437.2 L895.9,440.1 L896.6,443.1 L896.9,444.2 L897.3,442.1 L897.9,438.6 L898.6,436.0 L899.3,432.0 L900.0,430.2 L900.4,428.5 L900.6,428.3 L901.3,427.7 L902.0,426.5 L902.7,424.7 L902.8,424.6 L903.4,426.6 L904.0,427.3 L904.7,430.7 L904.8,431.2 L905.4,430.4 L906.1,430.4 L906.7,431.7 L907.4,431.0 L907.6,431.0 L908.1,433.2 L908.8,434.7 L909.4,435.1 L909.7,436.0 L910.1,438.1 L910.8,441.4 L911.5,446.4 L911.8,448.4 L912.1,449.5 L912.8,450.4 L913.5,451.3 L913.8,451.4 L914.2,450.8 L914.8,450.4 L915.5,449.5 L916.2,448.3 L916.9,447.3 L917.3,447.1 L917.5,447.7 L918.2,450.0 L918.9,452.7 L919.6,453.9 L920.1,455.8 L920.2,455.8 L920.9,454.5 L921.6,454.2 L922.3,453.5 L922.9,450.0 L923.5,448.8 L923.6,449.2 L924.3,452.9 L925.0,456.9 L925.6,461.5 L925.6,461.4 L926.3,458.8 L927.0,456.1 L927.7,453.5 L928.3,451.3 L928.4,451.2 L929.0,456.7 L929.7,462.3 L929.8,462.7 L930.4,466.0 L931.0,469.5 L931.7,472.0 L931.8,472.5 L932.4,470.5 L933.1,467.1 L933.7,465.5 L934.4,462.9 L935.1,460.7 L935.3,460.5 L935.8,461.6 L936.5,461.4 L937.1,460.8 L937.8,460.5 L938.5,458.9 L939.2,457.5 L939.4,457.7 L939.8,458.3 L940.5,457.7 L941.2,458.6 L941.9,459.2 L942.5,460.6 L943.2,462.1 L943.6,461.6 L943.9,461.8 L944.6,463.7 L945.2,464.5 L945.9,466.3 L946.4,468.1 L946.6,468.5 L947.3,469.6 L947.9,470.4 L948.6,470.6 L949.3,471.6 L949.8,472.3 L950.0,472.2 L950.6,471.4 L951.3,471.8 L952.0,471.0 L952.6,469.5 L952.7,469.7 L953.3,471.9 L954.0,473.6 L954.7,476.0 L955.4,478.7 L955.4,478.6 L956.0,476.7 L956.7,474.6 L957.4,471.1 L958.1,467.6 L958.7,464.3 L958.8,464.0 L959.4,466.1 L960.1,469.9 L960.8,473.6 L960.9,474.1 L961.4,470.2 L962.1,464.4 L962.8,459.1 L963.5,453.3 L963.7,451.9 L964.1,453.5 L964.8,456.7 L965.5,458.4 L965.7,459.2 L966.2,463.2 L966.9,470.1 L967.1,471.9 L967.5,470.1 L968.2,468.2 L968.9,465.7 L969.2,463.8 L969.6,459.1 L970.2,453.7 L970.9,447.3 L971.6,441.2 L971.6,440.6 L972.3,440.1 L972.9,437.3 L973.6,437.1 L973.9,436.8 L974.3,437.8 L975.0,439.7 L975.6,443.6 L976.1,444.2 L976.3,443.3 L977.0,441.5 L977.7,439.5 L978.0,438.5 L978.3,439.0 L979.0,439.5 L979.7,440.2 L980.0,440.2 L980.4,440.1 L981.0,440.6 L981.7,443.0 L982.4,444.3 L982.7,446.1 L983.1,446.8 L983.7,446.5 L984.4,446.5 L985.1,445.8 L985.5,445.3 L985.8,443.9 L986.4,439.7 L987.1,435.3 L987.7,432.1 L987.8,432.6 L988.5,436.7 L989.1,442.4 L989.1,443.4 L989.8,450.3 L990.5,456.2 L990.6,457.7 L991.2,454.3 L991.8,448.7 L992.5,443.2 L992.7,442.0 L993.2,437.4 L993.9,429.5 L994.4,424.2 L994.5,424.9 L995.2,427.6 L995.9,429.7 L996.6,432.4 L996.6,432.5 L997.3,429.6 L997.9,426.1 L998.6,424.3 L998.8,423.6 L999.3,426.1 L1000.0,428.6 L1000.6,431.6 L1001.3,432.0 L1001.6,432.5 L1002.0,431.0 L1002.7,429.7 L1003.3,428.2 L1003.3,427.9 L1004.0,426.1 L1004.7,425.0 L1005.4,423.8 L1005.5,423.5 L1006.0,420.1 L1006.7,417.2 L1007.1,414.9 L1007.4,414.8 L1008.1,414.9 L1008.7,414.0 L1008.8,414.0 L1009.4,417.4 L1010.1,418.7 L1010.8,420.2 L1010.8,420.3 L1011.4,419.6 L1012.1,418.4 L1012.8,418.4 L1013.5,417.9 L1013.8,417.8 L1014.1,419.2 L1014.8,420.0 L1015.5,420.9 L1016.0,422.5 L1016.2,423.2 L1016.8,425.1 L1017.5,427.2 L1018.2,429.3 L1018.2,429.4 L1018.9,429.2 L1019.5,430.8 L1019.9,431.6 L1020.2,431.1 L1020.9,429.9 L1021.6,428.3 L1022.2,424.3 L1022.7,422.9 L1022.9,424.0 L1023.6,426.7 L1024.3,429.8 L1024.9,432.9 L1024.9,433.2 L1025.6,436.8 L1026.3,440.6 L1026.9,442.9 L1027.0,441.8 L1027.7,436.2 L1028.3,429.2 L1029.0,423.5 L1029.3,420.4 L1029.7,420.0 L1030.4,417.7 L1031.0,417.9 L1031.5,417.4 L1031.7,417.1 L1032.4,416.5 L1033.1,417.5 L1033.7,416.0 L1033.8,415.9 L1034.4,417.7 L1035.1,419.3 L1035.8,421.0 L1036.0,421.8 L1036.4,421.1 L1037.1,421.3 L1037.8,421.2 L1038.2,420.9 L1038.5,419.6 L1039.1,417.2 L1039.8,413.2 L1039.9,413.0 L1040.5,412.2 L1041.2,411.0 L1041.8,409.9 L1042.1,409.8 L1042.5,409.7 L1043.2,409.5 L1043.9,409.8 L1044.5,408.6 L1045.2,407.8 L1045.4,407.5 L1045.9,406.5 L1046.6,404.9 L1047.2,403.6 L1047.9,402.2 L1048.6,400.2 L1048.7,399.8 L1049.3,400.8 L1049.9,402.1 L1050.4,402.7 L1050.6,403.3 L1051.3,406.4 L1052.0,409.9 L1052.6,413.1 L1053.2,415.3 L1053.3,416.0 L1054.0,419.0 L1054.7,421.6 L1055.2,422.8 L1055.3,422.1 L1056.0,421.2 L1056.5,420.9" fill="none" stroke="#ff0000" stroke-width="4.3" stroke-linejoin="round" stroke-linecap="round"/>
<path d="M80.5,532.7 L81.2,530.6 L81.9,529.5 L82.6,528.3 L83.2,528.8 L83.9,528.0 L84.6,526.4 L84.7,526.2 L85.3,527.2 L85.9,528.1 L86.6,529.6 L87.3,531.9 L87.5,532.2 L88.0,531.3 L88.6,530.0 L89.3,529.2 L89.5,529.1 L90.0,531.5 L90.7,535.3 L91.3,538.5 L92.0,541.8 L92.3,542.6 L92.7,540.7 L93.4,539.0 L94.0,538.0 L94.7,535.6 L95.4,533.7 L95.8,532.5 L96.1,533.6 L96.7,534.6 L97.4,536.4 L97.8,537.6 L98.1,537.2 L98.8,536.3 L99.5,535.9 L100.1,535.4 L100.8,535.0 L101.5,534.7 L102.2,534.5 L102.7,534.3 L102.8,535.4 L103.5,540.7 L104.1,543.6 L104.2,543.5 L104.9,544.3 L105.5,544.1 L106.2,542.8 L106.9,543.7 L107.5,543.2 L107.6,543.3 L108.2,545.8 L108.9,547.7 L109.6,549.7 L109.6,549.7 L110.3,547.5 L110.9,543.7 L111.6,541.3 L112.3,539.2 L113.0,537.3 L113.1,537.1 L113.6,542.2 L114.3,547.4 L115.0,551.5 L115.1,552.4 L115.7,549.9 L116.3,547.1 L117.0,543.5 L117.7,540.4 L118.4,537.7 L118.6,536.3 L119.0,531.3 L119.7,526.6 L120.4,520.4 L120.7,518.0 L121.1,516.8 L121.7,517.1 L122.4,514.1 L123.1,512.5 L123.8,511.7 L124.1,509.8 L124.4,509.7 L125.1,511.4 L125.8,513.5 L126.5,514.4 L126.9,515.9 L127.1,515.6 L127.8,514.1 L128.5,512.6 L129.2,511.0 L129.8,509.1 L130.1,508.3 L130.5,508.9 L131.2,509.1 L131.9,508.9 L132.4,510.1 L132.6,510.1 L133.2,509.8 L133.9,511.1 L134.6,513.5 L135.2,512.9 L135.3,513.2 L135.9,517.6 L136.6,520.7 L137.3,523.9 L137.3,523.9 L138.0,523.0 L138.6,522.3 L139.3,521.2 L140.0,519.6 L140.7,519.8 L141.3,518.3 L142.0,517.6 L142.7,516.9 L142.8,516.7 L143.4,517.4 L144.0,518.4 L144.7,520.1 L145.4,521.3 L146.1,522.4 L146.7,524.3 L147.0,524.2 L147.4,524.0 L148.1,524.6 L148.8,525.8 L149.4,527.0 L150.1,529.1 L150.4,530.2 L150.8,525.2 L151.5,515.6 L152.1,505.2 L152.5,500.1 L152.8,497.8 L153.5,491.3 L154.2,484.1 L154.2,484.2 L154.8,489.3 L155.5,492.8 L156.0,496.7 L156.2,499.3 L156.9,506.6 L157.5,511.9 L158.0,516.4 L158.2,516.4 L158.9,515.5 L159.6,513.7 L160.2,513.2 L160.9,512.2 L161.5,512.4 L161.6,512.7 L162.3,513.9 L163.0,514.7 L163.6,515.2 L163.6,515.0 L164.3,512.4 L165.0,512.4 L165.7,511.1 L166.3,509.5 L166.3,509.5 L167.0,510.0 L167.7,509.9 L168.4,509.5 L169.0,509.9 L169.1,510.0 L169.7,501.5 L170.4,491.5 L170.5,490.1 L171.1,489.7 L171.7,488.5 L172.4,486.6 L173.1,484.2 L173.8,483.8 L174.4,483.2 L174.6,483.0 L175.1,485.3 L175.8,488.5 L176.5,490.7 L177.1,493.9 L177.8,497.1 L178.1,498.6 L178.5,497.1 L179.2,495.0 L179.8,492.4 L180.5,489.0 L181.2,486.2 L181.5,484.3 L181.9,485.7 L182.5,488.5 L183.2,493.2 L183.9,497.6 L184.3,500.5 L184.6,498.7 L185.2,493.3 L185.7,488.9 L185.9,489.7 L186.6,492.6 L187.3,495.3 L187.9,499.3 L188.5,501.9 L188.6,501.5 L188.8,501.1 L189.3,495.2 L190.0,488.5 L190.5,482.6 L190.6,482.9 L191.3,484.7 L192.0,485.7 L192.7,486.4 L193.3,486.3 L193.4,486.0 L194.0,481.7 L194.7,477.6 L195.4,472.9 L196.1,468.9 L196.1,468.8 L196.7,471.3 L197.4,474.4 L198.1,477.4 L198.8,479.9 L199.4,482.3 L199.5,482.5 L200.1,480.5 L200.8,479.7 L201.5,478.7 L202.1,477.3 L202.8,476.5 L203.0,475.7 L203.5,472.9 L204.2,470.0 L204.8,467.7 L205.3,466.7 L205.5,467.6 L206.2,470.7 L206.9,473.8 L207.5,476.6 L208.2,477.6 L208.5,478.8 L208.9,475.7 L209.6,470.4 L210.2,465.0 L210.9,460.2 L211.0,459.7 L211.6,463.0 L212.3,465.3 L212.9,467.7 L213.6,470.9 L214.1,472.4 L214.3,472.2 L215.0,470.6 L215.6,469.4 L216.3,468.4 L217.0,466.0 L217.1,465.9 L217.7,468.1 L218.3,469.9 L219.0,470.8 L219.6,472.8 L219.7,474.0 L220.4,483.0 L221.0,492.7 L221.7,501.8 L221.7,501.7 L222.4,499.1 L223.1,494.6 L223.8,490.6 L224.4,486.3 L225.1,483.3 L225.8,481.0 L225.8,480.7 L226.5,478.7 L227.1,477.8 L227.8,475.2 L228.5,473.7 L229.2,473.6 L229.8,472.3 L230.5,473.0 L230.7,472.5 L231.2,474.6 L231.9,478.2 L232.5,482.0 L232.7,482.8 L233.2,482.4 L233.9,484.7 L234.6,484.5 L235.2,485.0 L235.9,486.1 L236.6,485.8 L237.3,486.6 L237.6,486.6 L237.9,486.6 L238.6,486.3 L239.3,487.7 L240.0,488.5 L240.6,489.7 L241.3,491.0 L241.7,490.9 L242.0,491.0 L242.7,491.7 L243.3,491.4 L244.0,491.2 L244.7,491.6 L245.4,492.8 L245.9,493.5 L246.0,493.6 L246.7,494.4 L247.4,495.2 L248.1,495.0 L248.7,495.6 L249.3,496.5 L249.4,496.5 L250.1,496.1 L250.8,494.8 L251.4,493.6 L252.1,491.4 L252.1,491.4 L252.8,492.4 L253.5,495.7 L254.2,498.2 L254.2,498.4 L254.8,503.1 L255.5,508.0 L256.2,511.2 L256.9,514.8 L257.0,515.3 L257.5,511.3 L258.2,506.8 L258.9,503.0 L259.6,499.4 L259.7,498.5 L260.2,498.0 L260.9,496.7 L261.6,495.7 L262.3,493.5 L262.9,490.7 L263.2,490.2 L263.6,489.3 L264.3,487.9 L265.0,486.5 L265.6,485.7 L266.3,483.5 L266.6,482.3 L267.0,481.0 L267.7,480.3 L268.3,478.8 L269.0,477.5 L269.4,477.5 L269.7,476.7 L270.4,473.1 L271.0,470.5 L271.7,467.5 L272.2,464.9 L272.4,465.4 L273.1,467.5 L273.7,470.3 L274.4,472.0 L274.9,474.2 L275.1,474.7 L275.8,475.4 L276.4,476.0 L277.1,477.4 L277.8,477.3 L278.4,477.5 L278.5,476.8 L279.1,470.1 L279.8,462.3 L280.5,455.1 L281.2,449.5 L281.2,449.5 L281.8,448.7 L282.5,449.5 L283.2,449.9 L283.9,449.0 L284.6,449.4 L284.6,449.3 L285.2,448.2 L285.9,447.8 L286.6,448.2 L287.3,447.7 L287.9,447.4 L288.1,447.2 L288.6,445.0 L289.3,442.1 L290.0,437.9 L290.6,435.0 L290.9,434.1 L291.3,437.2 L292.0,441.9 L292.7,448.2 L292.9,450.4 L293.3,452.4 L294.0,456.8 L294.7,461.3 L295.4,463.2 L295.7,464.9 L296.0,464.1 L296.7,460.8 L297.4,458.4 L298.1,457.7 L298.5,456.8 L298.7,457.0 L299.4,457.6 L300.1,457.5 L300.8,457.1 L301.4,455.1 L301.9,454.4 L302.1,454.4 L302.8,454.2 L303.5,454.9 L304.0,456.0 L304.1,455.8 L304.8,455.6 L305.5,454.3 L306.2,453.6 L306.8,452.4 L306.8,452.5 L307.5,453.1 L308.2,453.0 L308.9,453.2 L309.5,453.2 L310.2,453.1 L310.2,453.1 L310.9,455.3 L311.6,454.7 L312.2,455.7 L312.9,456.2 L313.6,455.9 L313.7,456.0 L314.3,455.1 L314.9,455.0 L315.6,453.7 L316.3,453.3 L317.0,453.0 L317.1,452.4 L317.7,452.2 L318.3,452.9 L319.0,454.0 L319.7,454.0 L319.9,454.5 L320.4,453.1 L321.0,451.1 L321.7,448.4 L322.4,447.0 L323.1,443.9 L323.7,442.1 L324.4,438.9 L324.8,437.0 L325.1,438.2 L325.8,442.9 L326.4,445.5 L327.1,449.0 L327.6,451.7 L327.8,452.1 L328.5,454.6 L329.1,455.7 L329.8,456.7 L330.5,458.9 L331.1,460.0 L331.2,459.3 L331.8,456.3 L332.5,454.4 L333.2,449.6 L333.9,445.3 L334.5,441.0 L335.2,436.6 L335.2,436.5 L335.9,442.9 L336.6,447.7 L337.2,452.1 L337.9,456.7 L338.0,457.1 L338.6,453.3 L339.3,451.7 L339.9,449.6 L340.6,446.8 L341.3,444.5 L341.4,443.9 L342.0,441.5 L342.6,438.5 L343.3,435.1 L344.0,432.5 L344.2,431.2 L344.7,430.3 L345.3,430.1 L346.0,430.7 L346.7,429.8 L347.4,429.7 L348.1,429.3 L348.7,428.8 L349.1,428.8 L349.4,428.4 L350.1,426.8 L350.8,424.8 L351.4,423.0 L352.1,420.7 L352.8,419.7 L353.2,419.1 L353.5,420.0 L354.1,422.2 L354.8,424.5 L355.5,425.7 L356.2,427.2 L356.7,429.0 L356.8,427.9 L357.5,423.1 L358.2,418.5 L358.9,413.2 L359.4,408.4 L359.5,408.5 L360.2,408.5 L360.9,410.3 L361.6,412.5 L362.2,413.9 L362.2,412.8 L362.9,391.7 L363.2,382.6 L363.6,378.1 L364.3,372.6 L364.5,370.2 L364.9,373.7 L365.6,380.7 L366.3,388.0 L366.4,388.6 L367.0,398.0 L367.6,407.4 L368.3,417.0 L368.4,418.5 L369.0,416.5 L369.7,414.6 L370.3,413.5 L370.9,412.5 L371.0,411.6 L371.7,405.3 L372.4,398.9 L373.0,393.6 L373.3,391.7 L373.7,387.6 L374.2,383.3 L374.4,383.6 L375.1,382.8 L375.7,381.6 L376.4,381.9 L377.1,380.8 L377.8,381.2 L378.5,382.3 L379.1,382.6 L379.1,382.7 L379.8,384.3 L380.5,385.3 L381.2,385.5 L381.8,385.7 L382.5,385.7 L382.5,385.7 L383.2,389.6 L383.9,392.4 L384.3,394.6 L384.5,391.6 L385.2,380.7 L385.9,370.9 L386.3,366.2 L386.6,364.7 L387.2,360.1 L387.9,357.5 L388.6,351.7 L389.3,346.2 L389.9,341.6 L389.9,342.2 L390.6,347.4 L391.3,354.1 L392.0,359.1 L392.2,361.3 L392.6,369.3 L392.9,373.8 L393.3,371.4 L394.0,369.1 L394.7,366.4 L395.0,365.1 L395.3,367.9 L396.0,372.9 L396.7,376.3 L397.4,380.8 L397.7,382.9 L398.0,382.2 L398.7,381.0 L399.4,381.0 L400.1,380.6 L400.7,380.5 L401.2,379.8 L401.4,382.3 L402.1,389.7 L402.7,397.6 L402.8,397.5 L403.4,394.7 L404.1,393.4 L404.8,390.5 L405.4,388.3 L405.5,387.2 L406.1,381.9 L406.8,375.5 L407.5,370.3 L408.1,364.7 L408.2,364.6 L408.9,362.9 L409.5,362.0 L410.2,360.5 L410.9,360.3 L410.9,360.3 L411.6,355.9 L412.2,350.6 L412.9,345.8 L413.0,345.4 L413.6,344.3 L414.3,342.5 L414.9,341.6 L415.0,341.4 L415.6,352.4 L416.3,366.2 L416.4,369.0 L417.0,370.1 L417.6,371.8 L418.3,372.3 L419.0,372.6 L419.2,373.2 L419.7,375.1 L420.3,376.3 L421.0,379.5 L421.7,380.3 L422.4,381.6 L422.6,382.5 L423.0,381.4 L423.7,378.4 L424.4,376.4 L424.7,375.5 L425.1,376.3 L425.7,376.3 L426.4,378.3 L426.8,379.6 L427.1,375.4 L427.8,364.7 L428.2,358.8 L428.4,358.4 L429.1,355.2 L429.8,352.7 L430.0,351.9 L430.5,356.2 L431.1,363.4 L431.6,368.7 L431.8,371.5 L432.5,382.1 L433.0,390.5 L433.2,388.9 L433.8,381.6 L434.5,372.9 L435.2,364.7 L435.8,358.0 L435.9,358.4 L436.5,361.7 L437.2,366.2 L437.9,370.0 L438.6,373.2 L438.6,373.1 L439.3,365.1 L439.9,357.5 L440.6,349.6 L440.6,349.2 L441.3,348.1 L442.0,347.3 L442.6,347.8 L443.3,347.1 L444.0,347.7 L444.1,347.9 L444.7,348.2 L445.3,346.6 L446.0,347.1 L446.7,346.0 L447.4,345.0 L448.0,344.0 L448.2,343.1 L448.7,342.6 L449.4,344.3 L450.1,345.7 L450.3,346.2 L450.7,344.5 L451.4,343.1 L452.1,340.0 L452.8,336.1 L453.1,335.2 L453.4,337.1 L454.1,339.8 L454.8,343.7 L455.5,347.9 L455.9,349.2 L456.1,347.7 L456.8,344.7 L457.5,341.7 L458.2,339.6 L458.6,338.1 L458.8,339.1 L459.5,341.9 L460.2,344.8 L460.9,347.4 L461.4,349.4 L461.5,348.7 L462.2,345.7 L462.9,342.3 L463.6,338.5 L464.2,336.9 L464.9,333.7 L464.9,333.9 L465.6,335.9 L466.3,338.5 L466.9,340.5 L466.9,341.1 L467.6,361.6 L468.0,374.9 L468.3,370.6 L469.0,359.5 L469.6,347.4 L470.3,337.4 L470.4,336.4 L471.0,344.5 L471.7,352.9 L472.4,362.0 L472.5,363.4 L473.0,361.7 L473.7,360.4 L474.4,357.9 L475.1,355.8 L475.7,354.4 L475.9,353.6 L476.4,353.1 L477.1,353.5 L477.8,353.4 L478.4,352.6 L478.7,353.3 L479.1,352.2 L479.8,349.5 L480.5,347.8 L480.8,346.6 L481.1,344.8 L481.8,340.3 L482.5,336.1 L483.2,331.4 L483.8,327.2 L483.9,326.6 L484.5,331.6 L485.2,336.9 L485.9,342.4 L486.3,346.2 L486.5,345.7 L487.2,343.4 L487.9,342.0 L488.6,340.5 L489.1,339.3 L489.2,339.9 L489.9,342.1 L490.6,344.4 L491.3,346.0 L491.9,348.1 L492.5,350.0 L492.6,350.5 L493.3,354.0 L494.0,358.4 L494.6,362.7 L495.3,367.2 L496.0,371.8 L496.7,376.7 L496.7,376.7 L497.3,365.6 L498.0,354.5 L498.7,344.6 L498.8,343.6 L499.4,333.4 L500.0,323.6 L500.0,323.9 L500.4,325.2 L500.7,325.2 L501.4,325.3 L502.1,326.5 L502.7,326.8 L502.8,326.7 L503.4,320.7 L504.1,313.2 L504.8,306.4 L504.8,306.0 L505.5,310.4 L506.1,316.8 L506.8,323.5 L506.9,324.1 L507.5,328.1 L508.2,333.2 L508.8,338.6 L509.0,339.5 L509.5,335.8 L510.2,333.4 L510.9,330.7 L511.5,326.5 L512.2,323.1 L512.4,321.9 L512.9,317.8 L513.6,312.3 L514.2,307.0 L514.9,300.8 L515.2,298.4 L515.6,298.8 L516.3,299.4 L516.9,299.2 L517.6,299.0 L518.0,298.3 L518.3,293.3 L519.0,285.1 L519.3,279.6 L519.6,278.5 L520.3,277.7 L521.0,276.9 L521.7,274.3 L522.1,273.9 L522.3,276.8 L523.0,283.9 L523.5,289.1 L523.7,290.0 L524.4,294.6 L525.0,297.7 L525.6,301.4 L525.7,301.3 L526.4,300.5 L527.1,299.1 L527.7,298.0 L528.4,294.9 L529.0,292.6 L529.1,292.9 L529.8,295.8 L530.4,300.1 L531.1,305.2 L531.8,309.1 L531.8,309.1 L532.5,310.3 L533.2,310.1 L533.8,310.9 L533.9,310.9 L534.5,307.0 L535.2,302.8 L535.9,298.6 L536.5,294.3 L536.6,293.6 L537.2,295.2 L537.9,297.0 L538.6,298.7 L539.2,300.6 L539.4,301.1 L539.9,300.9 L540.6,300.0 L541.3,299.4 L541.5,299.1 L541.9,304.4 L542.6,313.1 L543.3,320.5 L543.6,324.3 L544.0,322.2 L544.6,316.6 L545.3,311.7 L545.6,310.0 L546.0,306.2 L546.7,297.3 L547.3,290.2 L547.7,285.5 L548.0,285.1 L548.7,284.3 L549.4,283.4 L550.0,283.6 L550.5,283.1 L550.7,279.2 L551.4,266.6 L551.8,258.7 L552.1,257.2 L552.7,252.4 L553.4,250.3 L554.1,247.3 L554.6,244.5 L554.8,244.0 L555.4,241.8 L556.1,237.9 L556.8,235.3 L557.5,233.8 L558.1,230.5 L558.7,228.2 L558.8,229.2 L559.5,239.4 L560.1,246.5 L560.2,247.1 L560.8,259.2 L561.5,271.5 L561.5,271.5 L562.2,266.0 L562.9,261.5 L563.6,256.8 L564.2,251.7 L564.6,249.1 L564.9,253.2 L565.6,262.0 L566.3,270.2 L566.9,277.8 L567.1,280.2 L567.6,272.8 L568.3,261.9 L569.0,251.2 L569.1,248.7 L569.6,247.0 L570.3,242.9 L571.0,239.2 L571.7,237.1 L571.9,236.1 L572.3,240.4 L573.0,246.6 L573.7,254.0 L574.0,256.7 L574.4,247.4 L575.0,231.1 L575.7,215.7 L575.8,214.3 L576.4,220.1 L577.1,226.5 L577.4,229.7 L577.7,232.3 L578.4,239.4 L579.1,246.7 L579.5,251.3 L579.8,248.3 L580.4,240.4 L581.1,231.7 L581.6,225.3 L581.8,224.0 L582.5,219.6 L583.0,217.7 L583.1,217.0 L583.8,213.1 L584.5,210.5 L585.2,206.2 L585.8,203.2 L586.1,201.7 L586.5,204.0 L587.2,208.6 L587.9,214.1 L588.5,216.9 L588.5,217.1 L589.2,220.8 L589.9,225.5 L590.6,228.2 L590.6,228.2 L591.2,223.2 L591.9,217.3 L592.6,211.4 L592.6,211.1 L593.3,216.2 L594.0,220.3 L594.6,225.3 L594.7,225.7 L595.3,222.0 L596.0,218.4 L596.7,215.8 L597.3,213.2 L598.0,210.6 L598.7,208.2 L598.9,207.7 L599.4,210.0 L600.0,212.7 L600.7,216.5 L601.4,217.9 L602.1,219.9 L602.3,220.9 L602.7,216.4 L603.4,208.6 L604.1,200.7 L604.4,196.6 L604.8,196.1 L605.4,194.8 L606.1,192.5 L606.8,192.8 L607.5,192.4 L607.9,192.0 L608.1,198.6 L608.8,215.2 L609.3,225.2 L609.5,226.9 L610.2,232.8 L610.8,239.5 L611.1,241.6 L611.5,241.1 L612.2,240.4 L612.9,241.1 L613.5,240.2 L614.2,239.0 L614.8,238.8 L614.9,237.9 L615.6,230.7 L616.2,224.0 L616.9,218.2 L616.9,218.0 L617.6,214.7 L618.3,210.4 L618.9,206.9 L619.6,203.0 L620.3,199.3 L620.3,199.3 L621.0,190.7 L621.3,185.8 L621.6,187.2 L622.3,191.5 L623.0,195.2 L623.7,197.5 L624.0,199.6 L624.3,195.5 L625.0,187.3 L625.7,179.4 L625.8,177.7 L626.4,179.7 L627.1,182.8 L627.5,183.9 L627.7,184.1 L628.4,183.9 L629.1,185.0 L629.8,186.0 L630.4,186.3 L631.0,187.3 L631.1,187.0 L631.8,186.3 L632.5,184.3 L633.1,182.8 L633.8,182.2 L634.1,181.2 L634.5,183.1 L635.2,187.4 L635.8,191.4 L636.5,194.4 L636.5,194.6 L637.2,198.8 L637.9,202.2 L638.5,206.7 L639.2,211.4 L639.3,211.6 L639.9,205.9 L640.6,199.6 L641.2,193.9 L641.3,193.3 L641.9,198.3 L642.6,205.6 L643.3,210.5 L643.4,211.7 L643.9,217.1 L644.6,223.2 L644.8,224.7 L645.3,222.7 L646.0,222.3 L646.6,220.1 L646.9,219.4 L647.3,226.7 L648.0,238.7 L648.0,238.8 L648.7,246.5 L649.3,254.2 L649.4,254.5 L650.0,258.2 L650.7,260.4 L651.4,262.3 L651.4,262.7 L652.0,260.6 L652.7,257.2 L653.4,253.9 L654.1,251.4 L654.2,250.8 L654.7,251.1 L655.4,251.6 L656.1,252.2 L656.8,252.4 L657.0,252.2 L657.5,254.7 L658.1,258.9 L658.8,262.1 L659.1,263.6 L659.5,262.4 L660.2,259.9 L660.8,257.9 L661.5,256.9 L661.8,255.6 L662.2,256.9 L662.9,261.3 L663.5,264.7 L663.9,266.0 L664.2,267.2 L664.9,272.6 L665.6,275.6 L666.0,277.9 L666.2,277.4 L666.9,276.9 L667.6,274.9 L668.3,273.1 L668.9,270.4 L669.6,268.6 L670.1,267.5 L670.3,268.2 L671.0,271.3 L671.6,275.5 L672.3,278.7 L672.9,280.0 L673.0,278.9 L673.7,273.0 L674.3,265.9 L675.0,259.3 L675.0,258.9 L675.7,254.0 L676.4,246.9 L677.0,241.7 L677.7,236.0 L677.7,235.8 L678.4,238.6 L679.1,240.8 L679.7,241.9 L679.8,242.0 L680.4,241.8 L681.1,239.0 L681.8,238.2 L681.9,238.1 L682.4,245.8 L683.1,255.4 L683.3,257.6 L683.8,260.1 L684.5,264.0 L684.7,265.3 L685.1,264.0 L685.8,261.0 L686.5,259.3 L686.7,258.4 L687.2,258.6 L687.9,257.6 L688.5,257.8 L689.2,258.5 L689.5,258.5 L689.9,255.5 L690.6,249.8 L691.2,243.7 L691.9,239.0 L692.3,236.2 L692.6,235.8 L693.3,234.7 L693.9,234.9 L694.3,233.8 L694.6,232.6 L695.3,230.2 L696.0,227.8 L696.4,226.9 L696.6,227.7 L697.3,229.6 L698.0,231.2 L698.7,234.5 L699.2,235.1 L699.3,234.5 L700.0,232.3 L700.7,231.2 L701.4,228.0 L702.0,227.2 L702.0,227.5 L702.7,229.7 L703.4,231.5 L704.1,235.0 L704.7,237.1 L704.7,237.2 L705.4,241.9 L706.1,245.9 L706.8,249.3 L706.8,249.5 L707.4,249.3 L708.1,248.5 L708.8,247.8 L709.5,248.5 L710.1,248.6 L710.3,248.8 L710.8,244.5 L711.5,237.8 L712.2,231.8 L712.3,230.4 L712.8,237.9 L713.5,247.1 L713.7,250.6 L714.2,257.8 L714.9,265.0 L715.1,267.7 L715.5,263.9 L716.2,258.0 L716.9,251.5 L717.2,249.2 L717.6,255.7 L718.3,266.6 L718.6,272.0 L718.9,275.8 L719.6,282.3 L719.8,283.9 L720.3,289.7 L721.0,296.1 L721.1,298.1 L721.6,295.8 L722.3,291.6 L723.0,287.7 L723.7,284.7 L723.9,283.0 L724.3,285.2 L725.0,290.6 L725.7,295.2 L726.0,297.4 L726.4,297.6 L727.0,297.8 L727.7,297.4 L728.1,297.0 L728.4,298.5 L729.1,301.6 L729.4,303.8 L729.7,304.5 L730.4,305.8 L731.1,307.1 L731.5,307.6 L731.8,307.5 L732.4,307.2 L733.1,307.3 L733.8,307.4 L734.3,308.6 L734.5,313.4 L735.0,325.6 L735.1,327.5 L735.8,335.0 L736.4,341.3 L736.5,339.8" fill="none" stroke="#ff0000" stroke-width="4.9" stroke-linejoin="round" stroke-linecap="round"/>
</g>
<line x1="351.5" x2="378.5" y1="58.1" y2="58.1" stroke="#3c3cff" stroke-width="2"/>
<line x1="526.6" x2="551.4" y1="58.1" y2="58.1" stroke="#ff0000" stroke-width="4.7" stroke-linecap="round"/>
<g font-weight="bold">
<text y="26.3" font-size="22.2"><tspan x="379.00" textLength="49.20" lengthAdjust="spacingAndGlyphs">MBA</tspan> <tspan x="433.50" textLength="90.50" lengthAdjust="spacingAndGlyphs">Purchase</tspan> <tspan x="528.90" textLength="122.90" lengthAdjust="spacingAndGlyphs">Applications</tspan> <tspan x="658.00" textLength="54.20" lengthAdjust="spacingAndGlyphs">Index</tspan></text>
<text y="62.8" font-size="16.7"><tspan x="380.20" textLength="70.40" lengthAdjust="spacingAndGlyphs">Purchase</tspan> <tspan x="455.30" textLength="42.60" lengthAdjust="spacingAndGlyphs">Index</tspan></text>
<text y="62.8" font-size="16.7"><tspan x="554.70" textLength="9.70" lengthAdjust="spacingAndGlyphs">4</tspan> <tspan x="570.20" textLength="42.20" lengthAdjust="spacingAndGlyphs">Week</tspan> <tspan x="617.90" textLength="57.30" lengthAdjust="spacingAndGlyphs">Moving</tspan> <tspan x="679.90" textLength="63.70" lengthAdjust="spacingAndGlyphs">Average</tspan></text>
<text x="63.4" y="620.4" font-size="16.5" text-anchor="end" textLength="9.6" lengthAdjust="spacingAndGlyphs">0</text>
<text x="63.4" y="533.1" font-size="16.5" text-anchor="end" textLength="28.7" lengthAdjust="spacingAndGlyphs">100</text>
<text x="63.4" y="445.7" font-size="16.5" text-anchor="end" textLength="28.7" lengthAdjust="spacingAndGlyphs">200</text>
<text x="63.4" y="358.4" font-size="16.5" text-anchor="end" textLength="28.7" lengthAdjust="spacingAndGlyphs">300</text>
<text x="63.4" y="271.1" font-size="16.5" text-anchor="end" textLength="28.7" lengthAdjust="spacingAndGlyphs">400</text>
<text x="63.4" y="183.7" font-size="16.5" text-anchor="end" textLength="28.7" lengthAdjust="spacingAndGlyphs">500</text>
<text x="63.4" y="96.4" font-size="16.5" text-anchor="end" textLength="28.7" lengthAdjust="spacingAndGlyphs">600</text>
<text transform="translate(25.5,410) rotate(-90)" font-size="16.7" textLength="116.7" lengthAdjust="spacingAndGlyphs">Purchase Index</text>
<text transform="translate(83.0,638.3) rotate(-28.5)" font-size="15.5" text-anchor="end" textLength="43.6" lengthAdjust="spacingAndGlyphs">Jan-90</text>
<text transform="translate(118.0,638.3) rotate(-28.5)" font-size="15.5" text-anchor="end" textLength="43.6" lengthAdjust="spacingAndGlyphs">Jan-91</text>
<text transform="translate(153.0,638.3) rotate(-28.5)" font-size="15.5" text-anchor="end" textLength="43.6" lengthAdjust="spacingAndGlyphs">Jan-92</text>
<text transform="translate(188.0,638.3) rotate(-28.5)" font-size="15.5" text-anchor="end" textLength="43.6" lengthAdjust="spacingAndGlyphs">Jan-93</text>
<text transform="translate(224.0,638.3) rotate(-28.5)" font-size="15.5" text-anchor="end" textLength="43.6" lengthAdjust="spacingAndGlyphs">Jan-94</text>
<text transform="translate(259.0,638.3) rotate(-28.5)" font-size="15.5" text-anchor="end" textLength="43.6" lengthAdjust="spacingAndGlyphs">Jan-95</text>
<text transform="translate(294.0,638.3) rotate(-28.5)" font-size="15.5" text-anchor="end" textLength="43.6" lengthAdjust="spacingAndGlyphs">Jan-96</text>
<text transform="translate(330.0,638.3) rotate(-28.5)" font-size="15.5" text-anchor="end" textLength="43.6" lengthAdjust="spacingAndGlyphs">Jan-97</text>
<text transform="translate(365.0,638.3) rotate(-28.5)" font-size="15.5" text-anchor="end" textLength="43.6" lengthAdjust="spacingAndGlyphs">Jan-98</text>
<text transform="translate(400.0,638.3) rotate(-28.5)" font-size="15.5" text-anchor="end" textLength="43.6" lengthAdjust="spacingAndGlyphs">Jan-99</text>
<text transform="translate(435.0,638.3) rotate(-28.5)" font-size="15.5" text-anchor="end" textLength="43.6" lengthAdjust="spacingAndGlyphs">Jan-00</text>
<text transform="translate(471.0,638.3) rotate(-28.5)" font-size="15.5" text-anchor="end" textLength="43.6" lengthAdjust="spacingAndGlyphs">Jan-01</text>
<text transform="translate(506.0,638.3) rotate(-28.5)" font-size="15.5" text-anchor="end" textLength="43.6" lengthAdjust="spacingAndGlyphs">Jan-02</text>
<text transform="translate(541.0,638.3) rotate(-28.5)" font-size="15.5" text-anchor="end" textLength="43.6" lengthAdjust="spacingAndGlyphs">Jan-03</text>
<text transform="translate(576.0,638.3) rotate(-28.5)" font-size="15.5" text-anchor="end" textLength="43.6" lengthAdjust="spacingAndGlyphs">Jan-04</text>
<text transform="translate(612.0,638.3) rotate(-28.5)" font-size="15.5" text-anchor="end" textLength="43.6" lengthAdjust="spacingAndGlyphs">Jan-05</text>
<text transform="translate(647.0,638.3) rotate(-28.5)" font-size="15.5" text-anchor="end" textLength="43.6" lengthAdjust="spacingAndGlyphs">Jan-06</text>
<text transform="translate(682.0,638.3) rotate(-28.5)" font-size="15.5" text-anchor="end" textLength="43.6" lengthAdjust="spacingAndGlyphs">Jan-07</text>
<text transform="translate(717.0,638.3) rotate(-28.5)" font-size="15.5" text-anchor="end" textLength="43.6" lengthAdjust="spacingAndGlyphs">Jan-08</text>
<text transform="translate(753.0,638.3) rotate(-28.5)" font-size="15.5" text-anchor="end" textLength="43.6" lengthAdjust="spacingAndGlyphs">Jan-09</text>
<text transform="translate(788.0,638.3) rotate(-28.5)" font-size="15.5" text-anchor="end" textLength="43.6" lengthAdjust="spacingAndGlyphs">Jan-10</text>
<text transform="translate(823.0,638.3) rotate(-28.5)" font-size="15.5" text-anchor="end" textLength="43.6" lengthAdjust="spacingAndGlyphs">Jan-11</text>
<text transform="translate(858.0,638.3) rotate(-28.5)" font-size="15.5" text-anchor="end" textLength="43.6" lengthAdjust="spacingAndGlyphs">Jan-12</text>
<text transform="translate(894.0,638.3) rotate(-28.5)" font-size="15.5" text-anchor="end" textLength="43.6" lengthAdjust="spacingAndGlyphs">Jan-13</text>
<text transform="translate(929.0,638.3) rotate(-28.5)" font-size="15.5" text-anchor="end" textLength="43.6" lengthAdjust="spacingAndGlyphs">Jan-14</text>
<text transform="translate(964.0,638.3) rotate(-28.5)" font-size="15.5" text-anchor="end" textLength="43.6" lengthAdjust="spacingAndGlyphs">Jan-15</text>
<text transform="translate(999.0,638.3) rotate(-28.5)" font-size="15.5" text-anchor="end" textLength="43.6" lengthAdjust="spacingAndGlyphs">Jan-16</text>
<text transform="translate(1035.0,638.3) rotate(-28.5)" font-size="15.5" text-anchor="end" textLength="43.6" lengthAdjust="spacingAndGlyphs">Jan-17</text>
<text transform="translate(1070.0,638.3) rotate(-28.5)" font-size="15.5" text-anchor="end" textLength="43.6" lengthAdjust="spacingAndGlyphs">Jan-18</text>
</g>
<text y="682" font-size="14" style="font-family:'DejaVu Sans','Liberation Sans',sans-serif"><tspan x="455.60" textLength="43.60" lengthAdjust="spacingAndGlyphs">http://</tspan><tspan x="500.40" textLength="37.00" lengthAdjust="spacingAndGlyphs">www.</tspan><tspan x="537.40" textLength="116.00" lengthAdjust="spacingAndGlyphs">calculatedriskblog</tspan><tspan x="653.60" textLength="38.70" lengthAdjust="spacingAndGlyphs">.com/</tspan></text>
</svg>
</body></html>
